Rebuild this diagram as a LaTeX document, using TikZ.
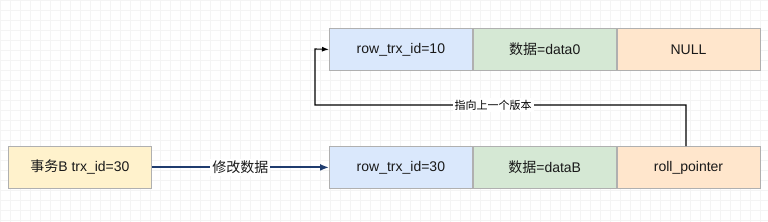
\documentclass[tikz,border=0pt]{standalone}
\usepackage{fontspec}
\setmainfont{Liberation Sans}
\newfontfamily\cjk{Noto Sans CJK SC}
\usetikzlibrary{arrows.meta}
\definecolor{bluef}{HTML}{DAE8FC}
\definecolor{greenf}{HTML}{D5E8D4}
\definecolor{orangef}{HTML}{FFE6CC}
\definecolor{yellowf}{HTML}{FFF2CC}
\definecolor{edgegray}{HTML}{B0B0B0}
\definecolor{navy}{HTML}{1F3C6E}
\definecolor{gridc}{HTML}{F4F4F4}
\tikzset{
  cell/.style={draw=edgegray, line width=0.8pt, minimum width=143pt, minimum height=42pt, inner sep=0pt, font=\fontsize{14}{16}\selectfont, text=black!90},
  lbl/.style={fill=white, inner sep=2pt},
}
\begin{document}
\begin{tikzpicture}[x=1pt,y=-1pt]
\useasboundingbox (0,0) rectangle (768,222);
\fill[white] (0,0) rectangle (768,222);
\draw[gridc, step=10pt] (0,0) grid (768,222);
% top row
\node[cell, fill=bluef, anchor=north west] (t1) at (329,28) {row\_trx\_id=10};
\node[cell, fill=greenf, anchor=west] (t2) at (t1.east) {{\cjk 数据}=data0};
\node[cell, fill=orangef, anchor=west] (t3) at (t2.east) {NULL};
% bottom row
\node[cell, fill=bluef, anchor=north west] (b1) at (329,146) {row\_trx\_id=30};
\node[cell, fill=greenf, anchor=west] (b2) at (b1.east) {{\cjk 数据}=dataB};
\node[cell, fill=orangef, anchor=west] (b3) at (b2.east) {roll\_pointer};
% transaction
\node[cell, fill=yellowf, minimum width=143pt, anchor=north west] (tx) at (8,146) {{\cjk 事务}B trx\_id=30};
% connectors
\draw[navy, line width=2pt, -{Latex[length=9pt,width=7pt]}] (tx) -- node[lbl, text=black!90, font=\cjk\fontsize{14}{16}\selectfont] {修改数据} (b1);
\coordinate (c1) at (686,105);
\coordinate (c2) at (315,105);
\coordinate (c3) at (315,49);
\draw[black, line width=1.1pt, -{Latex[length=7pt,width=5pt]}] (b3.north -| c1) -- (c1) -- node[lbl, pos=0.52, font=\cjk\fontsize{11}{13}\selectfont] {指向上一个版本} (c2) -- (c3) -- (t1.west);
\end{tikzpicture}
\end{document}
